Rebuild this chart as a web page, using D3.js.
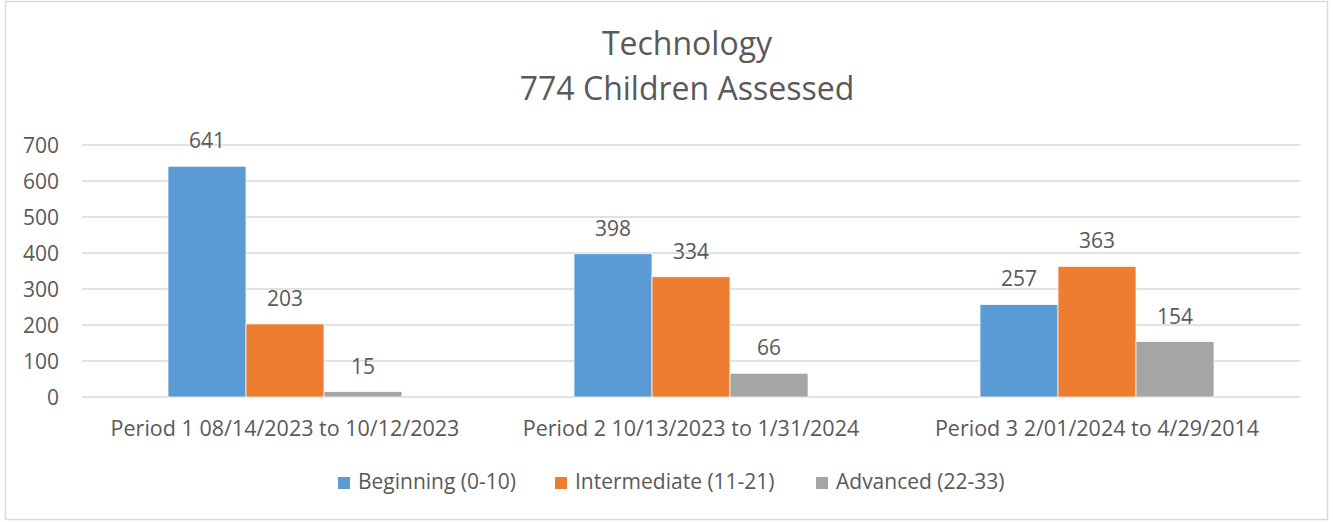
<!DOCTYPE html>
<html>
<head>
<meta charset="utf-8">
<script src="https://cdn.jsdelivr.net/npm/d3@7"></script>
<style>
  body { margin: 0; background: #fff; }
  svg text { font-family: "Open Sans", sans-serif; fill: #595959; }
</style>
</head>
<body>
<svg id="chart" width="1333" height="522"></svg>
<script>
// chart data
var periods = ["Period 1 08/14/2023 to 10/12/2023", "Period 2 10/13/2023 to 1/31/2024", "Period 3 2/01/2024 to 4/29/2014"];
var seriesNames = ["Beginning (0-10)", "Intermediate (11-21)", "Advanced (22-33)"];
var beginning = [641, 398, 257];
var intermediate = [203, 334, 363];
var advanced = [15, 66, 154];
var yTicks = [0, 100, 200, 300, 400, 500, 600, 700];
var colors = ["#5B9BD5", "#ED7D31", "#A5A5A5"];

var seriesValues = [beginning, intermediate, advanced];

// plot area
var plotLeft = 82, plotRight = 1300, plotTop = 145, plotBottom = 397;

var svg = d3.select("#chart");

// outer border
svg.append("rect")
    .attr("x", 5.5).attr("y", 1.5)
    .attr("width", 1322).attr("height", 518)
    .attr("fill", "#fff")
    .attr("stroke", "#D9D9D9")
    .attr("stroke-width", 1.5);

// title
svg.append("text")
    .attr("x", 687).attr("y", 55)
    .attr("text-anchor", "middle")
    .style("font-size", "32px")
    .text("Technology");
svg.append("text")
    .attr("x", 687).attr("y", 100)
    .attr("text-anchor", "middle")
    .style("font-size", "32px")
    .text("774 Children Assessed");

var y = d3.scaleLinear().domain([0, 700]).range([plotBottom, plotTop]);

var x0 = d3.scaleBand().domain(periods).range([plotLeft, plotRight]).padding(0);
var groupGap = x0.bandwidth() * 172 / 406;
var x1 = d3.scaleBand().domain(d3.range(seriesNames.length))
    .range([groupGap / 2, x0.bandwidth() - groupGap / 2]).padding(0);

// gridlines
svg.append("g").selectAll("line")
    .data(yTicks)
    .enter().append("line")
    .attr("x1", plotLeft).attr("x2", plotRight)
    .attr("y1", function(d) { return Math.round(y(d)); })
    .attr("y2", function(d) { return Math.round(y(d)); })
    .attr("stroke", "#D9D9D9")
    .attr("stroke-width", 1.5);

// y axis labels
var yAxis = d3.axisLeft(y).tickValues(yTicks).tickSize(0).tickPadding(0);
var yg = svg.append("g").attr("transform", "translate(59,0)").call(yAxis);
yg.select(".domain").remove();
yg.selectAll("text")
    .attr("dy", "0.36em")
    .style("font-size", "21px")
    .style("font-family", "'Open Sans', sans-serif")
    .attr("fill", "#595959");

// bars
var groups = svg.append("g").selectAll("g")
    .data(periods)
    .enter().append("g")
    .attr("transform", function(d) { return "translate(" + x0(d) + ",0)"; });

groups.selectAll("rect")
    .data(function(d, i) { return seriesValues.map(function(s, j) { return { s: j, v: s[i] }; }); })
    .enter().append("rect")
    .attr("x", function(d) { return x1(d.s); })
    .attr("y", function(d) { return y(d.v); })
    .attr("width", x1.bandwidth())
    .attr("height", function(d) { return y(0) - y(d.v); })
    .attr("fill", function(d) { return colors[d.s]; })
    .attr("stroke", "#fff")
    .attr("stroke-width", 0.75);

// data labels
groups.selectAll("text")
    .data(function(d, i) { return seriesValues.map(function(s, j) { return { s: j, v: s[i] }; }); })
    .enter().append("text")
    .attr("x", function(d) { return x1(d.s) + x1.bandwidth() / 2; })
    .attr("y", function(d) { return y(d.v) - 18; })
    .attr("text-anchor", "middle")
    .style("font-size", "21px")
    .text(function(d) { return d.v; });

// x axis labels
var xAxis = d3.axisBottom(x0).tickSize(0).tickPadding(0);
var xg = svg.append("g").attr("transform", "translate(0," + plotBottom + ")").call(xAxis);
xg.select(".domain").remove();
xg.selectAll("text")
    .attr("y", 39)
    .attr("dy", null)
    .style("font-size", "21.5px")
    .style("font-family", "'Open Sans', sans-serif")
    .attr("fill", "#595959");

// legend
var legendX = [338, 555, 816];
var legend = svg.append("g").selectAll("g")
    .data(seriesNames)
    .enter().append("g")
    .attr("transform", function(d, i) { return "translate(" + legendX[i] + ",477)"; });
legend.append("rect")
    .attr("width", 12).attr("height", 12)
    .attr("fill", function(d, i) { return colors[i]; });
legend.append("text")
    .attr("x", 20).attr("y", 12)
    .style("font-size", "21px")
    .text(function(d) { return d; });
</script>
</body>
</html>
